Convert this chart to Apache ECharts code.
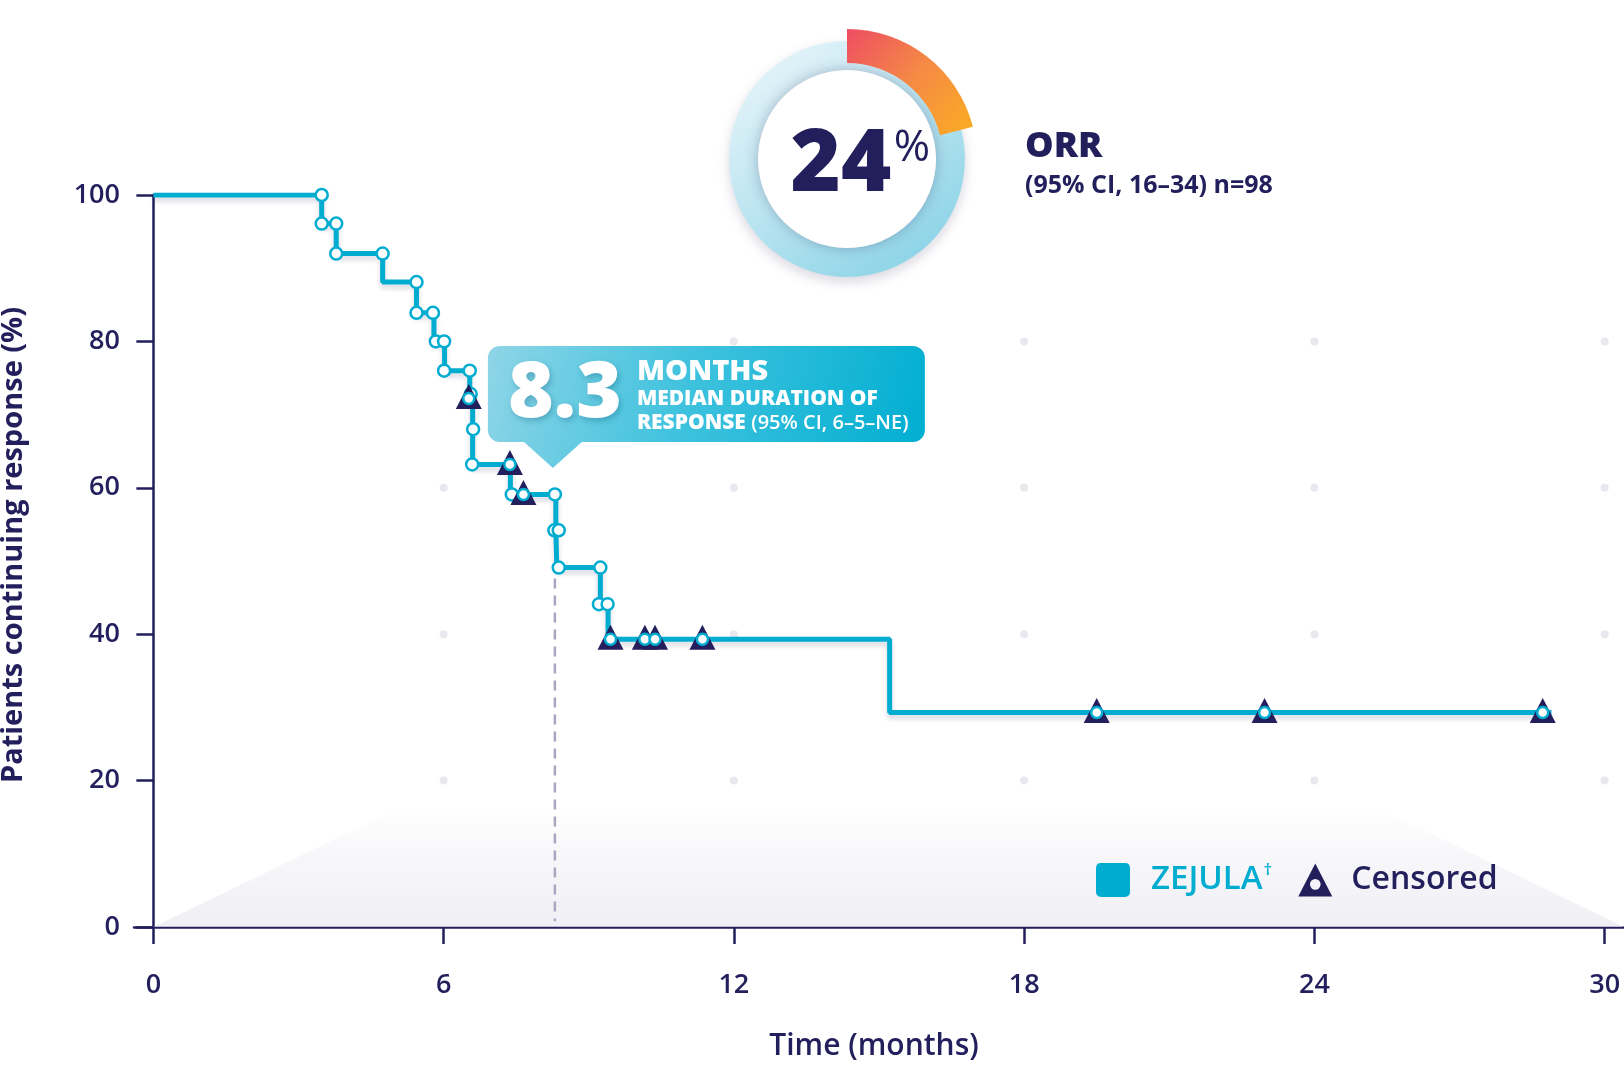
<!DOCTYPE html>
<html><head><meta charset="utf-8">
<script src="https://cdn.jsdelivr.net/npm/echarts@6/dist/echarts.min.js"></script>
<style>html,body{margin:0;padding:0;background:#fff}#c{width:1624px;height:1065px}</style>
</head><body><div id="c"></div>
<script>
// ---------------- data ----------------
const timeTicks = [0, 6, 12, 18, 24, 30];
const responseTicks = [0, 20, 40, 60, 80, 100];
const dotTimes = [6, 12, 18, 24, 30];
const dotValues = [20, 40, 60, 80];

// Kaplan-Meier steps (time in months, % continuing response)
const kmTimes  = [0, 3.48, 3.78, 4.74, 5.44, 5.80, 6.02, 6.54, 6.60, 6.60, 7.38, 8.32, 8.34, 9.24, 9.40, 15.22, 28.9];
const kmValues = [100, 96.1, 92.0, 88.1, 83.9, 80.0, 76.0, 72.2, 68.0, 63.2, 59.1, 54.2, 49.1, 44.1, 39.3, 29.3, 29.3];

// open circles drawn on the curve
const eventTimes  = [3.48, 3.48, 3.78, 3.78, 4.74, 5.44, 5.44, 5.78, 5.84, 6.01, 6.01, 6.54, 6.56, 6.61, 6.59, 7.41, 8.30, 8.29, 8.38, 8.38, 9.24, 9.21, 9.39];
const eventValues = [100, 96.1, 96.1, 92.0, 92.0, 88.1, 83.9, 83.9, 80.0, 80.0, 76.0, 76.0, 72.8, 68.0, 63.2, 59.1, 59.1, 54.2, 54.2, 49.1, 49.1, 44.1, 44.1];

// censored observations
const censoredTimes  = [6.52, 7.37, 7.65, 9.45, 10.16, 10.37, 11.35, 19.5, 22.97, 28.72];
const censoredValues = [72.2, 63.2, 59.1, 39.3, 39.3, 39.3, 39.3, 29.3, 29.3, 29.3];

const medianDoR = 8.3;
const medianLineValues = [47.6, 0.8];

// decorative floor shape behind the legend
const backdropTimes  = [0, 5.0, 25.4, 30.4];
const backdropValues = [0, 16, 16, 0];

const orrPercent = 24;
const orrArcShare = [21, 79];   // drawn arc / remainder as seen in the picture
const orrLabel = 'ORR';
const orrDetail = '(95% CI, 16–34) n=98';
const calloutBig = '8.3';
const calloutLines = ['MONTHS', 'MEDIAN DURATION OF', 'RESPONSE', '(95% CI, 6–5–NE)'];

// ---------------- styling ----------------
const NAVY = '#231f5c';
const CYAN = '#00acd0';
const FONT = 'Open Sans';

const zip = (a, b) => a.map((v, i) => [v, b[i]]);
const dots = [];
dotTimes.forEach(t => dotValues.forEach(v => dots.push([t, v])));

const chart = echarts.init(document.getElementById('c'), null, {renderer: 'canvas'});

const option = {
  animation: false,
  backgroundColor: '#ffffff',
  textStyle: {fontFamily: FONT},
  grid: {left: 134, right: 0, top: 195, bottom: 138, containLabel: false, outerBoundsMode: 'none'},
  xAxis: {
    type: 'value', min: -0.4, max: 30.4,
    name: 'Time (months)', nameLocation: 'middle', nameGap: 104,
    nameTextStyle: {fontSize: 30, fontWeight: 600, color: NAVY, fontFamily: FONT, padding: [0, 10, 0, 0]},
    axisLine: {show: true, onZero: false, lineStyle: {color: NAVY, width: 2.5}},
    axisTick: {show: true, inside: false, length: 17, customValues: timeTicks, lineStyle: {color: NAVY, width: 2.5}},
    axisLabel: {customValues: timeTicks, margin: 45, fontSize: 27, fontWeight: 600, color: NAVY, fontFamily: FONT},
    splitLine: {show: false}
  },
  yAxis: {
    type: 'value', min: 0, max: 100, interval: 20,
    name: 'Patients continuing response (%)', nameLocation: 'middle', nameGap: 106,
    nameTextStyle: {fontSize: 29, fontWeight: 700, color: NAVY, fontFamily: FONT, padding: [0, 0, 0, 32]},
    axisLine: {show: true, onZero: true, lineStyle: {color: NAVY, width: 2.5}},
    axisTick: {show: true, inside: false, length: 17, lineStyle: {color: NAVY, width: 2.5}},
    axisLabel: {margin: 14, fontSize: 27, fontWeight: 600, color: NAVY, fontFamily: FONT},
    splitLine: {show: false}
  },
  legend: {
    left: 1096, top: 862, padding: 0, orient: 'horizontal', itemWidth: 34, itemHeight: 34, itemGap: 26,
    selectedMode: false,
    data: [
      {name: 'ZEJULA', icon: 'path://M5,0 H28 Q33,0 33,5 V28 Q33,33 28,33 H5 Q0,33 0,28 V5 Q0,0 5,0 Z'},
      {name: 'Censored', icon: 'path://M17.5,0 L35,34 L0,34 Z M17.5,16 A5.5,5.5 0 1 0 17.5,27 A5.5,5.5 0 1 0 17.5,16 Z'}
    ],
    formatter: n => n === 'ZEJULA' ? '{z|ZEJULA}{d|†}' : '{c|Censored}',
    textStyle: {
      fontFamily: FONT,
      rich: {
        z: {fontSize: 33, fontWeight: 600, color: CYAN, fontFamily: FONT, padding: [0, 0, 0, 16], lineHeight: 36},
        d: {fontSize: 17, fontWeight: 600, color: CYAN, fontFamily: FONT, verticalAlign: 'top', lineHeight: 36, padding: [0, 0, 14, 1]},
        c: {fontSize: 32, fontWeight: 600, color: NAVY, fontFamily: FONT, padding: [0, 0, 0, 14], lineHeight: 36}
      }
    }
  },
  series: [
    {
      name: 'backdrop', type: 'line', silent: true, z: 1,
      data: zip(backdropTimes, backdropValues),
      symbol: 'none', lineStyle: {width: 0, opacity: 0},
      areaStyle: {
        origin: 'start',
        color: new echarts.graphic.LinearGradient(0, 0, 0, 1, [
          {offset: 0, color: 'rgba(236,235,242,0.0)'},
          {offset: 0.35, color: 'rgba(236,235,242,0.55)'},
          {offset: 1, color: 'rgba(233,232,240,1)'}
        ])
      }
    },
    {
      name: 'gridDots', type: 'scatter', silent: true, z: 2,
      data: dots, symbol: 'circle', symbolSize: 8,
      itemStyle: {color: '#e8e8ef', opacity: 1}
    },
    {
      name: 'median', type: 'line', silent: true, z: 3,
      data: medianLineValues.map(v => [medianDoR, v]),
      symbol: 'none',
      lineStyle: {color: '#a9a6c1', width: 2.5, type: [10, 7]}
    },
    {
      name: 'ZEJULA', type: 'line', step: 'end', z: 4, silent: true,
      data: zip(kmTimes, kmValues),
      showSymbol: false, symbol: 'none',
      color: CYAN,
      lineStyle: {color: CYAN, width: 5, shadowColor: 'rgba(40,40,90,0.18)', shadowBlur: 5, shadowOffsetY: 4},
      itemStyle: {color: CYAN}
    },
    {
      name: 'events', type: 'scatter', z: 5, silent: true,
      data: zip(eventTimes, eventValues),
      symbol: 'circle', symbolSize: 12,
      itemStyle: {color: '#ffffff', borderColor: CYAN, borderWidth: 2.5, opacity: 1}
    },
    {
      name: 'Censored', type: 'scatter', z: 6, silent: true,
      data: zip(censoredTimes, censoredValues),
      symbol: 'triangle', symbolSize: [26, 25], symbolOffset: [0, -2],
      color: NAVY,
      itemStyle: {color: NAVY, opacity: 1}
    },
    {
      name: 'censoredDot', type: 'scatter', z: 7, silent: true,
      data: zip(censoredTimes, censoredValues),
      symbol: 'circle', symbolSize: 11,
      itemStyle: {color: '#ffffff', borderColor: CYAN, borderWidth: 2.5, opacity: 1}
    },
    // ORR donut
    {
      name: 'orrRing', type: 'pie', silent: true, z: 1,
      center: [847, 159], radius: [89, 118], startAngle: 90,
      label: {show: false}, labelLine: {show: false},
      data: [{value: 100, itemStyle: {
        color: new echarts.graphic.LinearGradient(0.15, 0, 0.85, 1, [
          {offset: 0, color: '#e8f5fa'},
          {offset: 0.55, color: '#b4e2ef'},
          {offset: 1, color: '#86d2e6'}
        ]),
        shadowColor: 'rgba(40,40,90,0.18)', shadowBlur: 12, shadowOffsetY: 5
      }}]
    },
    {
      name: 'orrDisc', type: 'pie', silent: true, z: 2,
      center: [847, 159], radius: [0, 89], startAngle: 90,
      label: {show: false}, labelLine: {show: false},
      data: [{value: 1, itemStyle: {color: '#ffffff', shadowColor: 'rgba(30,30,80,0.28)', shadowBlur: 14}}]
    },
    {
      name: 'orrArc', type: 'pie', silent: true, z: 3,
      center: [847, 159], radius: [96, 130], startAngle: 90, clockwise: true,
      label: {show: false}, labelLine: {show: false},
      data: [
        {value: orrArcShare[0], itemStyle: {color: new echarts.graphic.LinearGradient(0, 0, 1, 1, [
          {offset: 0, color: '#ee4d63'},
          {offset: 0.5, color: '#f58a45'},
          {offset: 1, color: '#fbad22'}
        ])}},
        {value: orrArcShare[1], itemStyle: {color: 'rgba(0,0,0,0)'}}
      ]
    }
  ]
};
chart.setOption(option);

// ---------------- callout + ORR texts ----------------
const p = chart.convertToPixel({xAxisIndex: 0, yAxisIndex: 0}, [medianDoR, 0]);
const ax = p[0] - 2;            // pointer apex x
const L = ax - 65, R = ax + 372, T = 346, B = 442;
const calloutFill = () => new echarts.graphic.LinearGradient(L, T, R, T + 110, [
  {offset: 0, color: '#8fd5e7'},
  {offset: 0.45, color: '#3fc2de'},
  {offset: 1, color: '#00aed1'}
], true);

const txt = (text, x, y, font, fill, align, extra) => Object.assign({
  type: 'text', z: 101, silent: true,
  style: Object.assign({text, x, y, fill, font, align: align, verticalAlign: 'middle',
    textAlign: align, textVerticalAlign: 'middle'}, extra || {})
});
const whiteShadow = {textShadowColor: 'rgba(0,80,110,0.30)', textShadowBlur: 6, textShadowOffsetX: 2, textShadowOffsetY: 3};

chart.setOption({
  graphic: [
    {
      type: 'rect', z: 100, silent: true,
      shape: {x: L, y: T, width: R - L, height: B - T, r: 12},
      style: {fill: calloutFill()}
    },
    {
      type: 'polygon', z: 100, silent: true,
      shape: {points: [[ax - 30, B - 1], [ax + 30, B - 1], [ax, B + 26]]},
      style: {fill: calloutFill()}
    },
    txt(calloutBig, L + 20, T + 49, `800 78px "${FONT}"`, '#ffffff', 'left', whiteShadow),
    txt(calloutLines[0], L + 149, T + 26, `800 29px "${FONT}"`, '#ffffff', 'left'),
    txt(calloutLines[1], L + 149, T + 53, `800 21px "${FONT}"`, '#ffffff', 'left'),
    txt(`{b|${calloutLines[2]}} {r|${calloutLines[3]}}`, L + 149, T + 77, `800 21px "${FONT}"`, '#ffffff', 'left', {
      rich: {
        b: {font: `800 21px "${FONT}"`, fill: '#ffffff', color: '#ffffff'},
        r: {font: `600 20px "${FONT}"`, fill: '#ffffff', color: '#ffffff'}
      }
    }),
    // ORR donut texts
    txt(String(orrPercent), 841, 166, `800 86px "${FONT}"`, NAVY, 'center'),
    txt('%', 912, 148, `400 44px "${FONT}"`, NAVY, 'center'),
    txt(orrLabel, 1025, 147, `800 36px "${FONT}"`, NAVY, 'left'),
    txt(orrDetail, 1025, 186, `700 25px "${FONT}"`, NAVY, 'left')
  ]
});
</script></body></html>
